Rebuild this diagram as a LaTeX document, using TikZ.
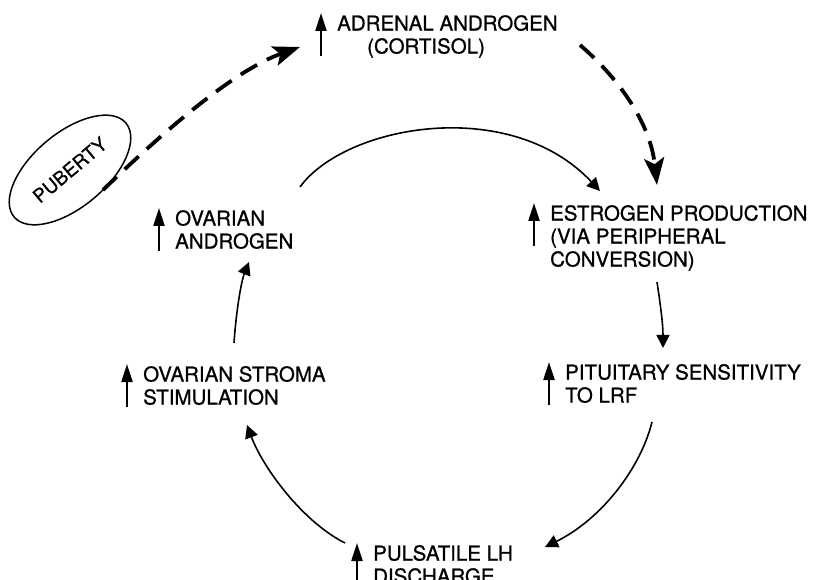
\documentclass[tikz,border=0pt]{standalone}
\usepackage{fontspec}
\setmainfont{TeX Gyre Heros}[FakeBold=0.8]
\usetikzlibrary{arrows.meta,shapes.geometric}

\begin{document}
\begin{tikzpicture}[x=1pt,y=-1pt,
    lbl/.style={anchor=north west,inner sep=0pt,align=left,font=\fontsize{20.5}{23}\selectfont},
    cyc/.style={line width=1.6pt,-{Triangle[length=13pt,width=13pt]}},
    dsh/.style={line width=3.8pt,dash pattern=on 19pt off 11pt,-{Stealth[length=27pt,width=20pt,inset=6pt]}},
    rise/.style={line width=2.2pt,-{Triangle[length=18pt,width=11pt]}}]
  \clip (0,0) rectangle (820,580);

  \node[lbl] (adrenal) at (337,15) {ADRENAL ANDROGEN\\\hspace*{30pt}(CORTISOL)};
  \node[lbl] (estrogen) at (550,205) {ESTROGEN PRODUCTION\\(VIA PERIPHERAL\\CONVERSION)};
  \node[lbl] (pituitary) at (565,364) {PITUITARY SENSITIVITY\\TO LRF};
  \node[lbl] (pulsatile) at (373,545) {PULSATILE LH\\DISCHARGE};
  \node[lbl] (stroma) at (143,366) {OVARIAN STROMA\\STIMULATION};
  \node[lbl] (ovarian) at (175,210) {OVARIAN\\ANDROGEN};
  \node[draw,ellipse,line width=1.5pt,rotate=40,minimum width=146pt,minimum height=74pt,
        inner sep=0pt,font=\fontsize{19}{23}\selectfont] (puberty) at (70,170) {PUBERTY};

  % small up arrows in front of each label
  \foreach \n in {adrenal,estrogen,pituitary,pulsatile,stroma,ovarian}
    \draw[rise] ([shift={(-16,41)}]\n.north west) -- ([shift={(-16,-2)}]\n.north west);

  % the cycle
  \draw[cyc] ([shift={(125,-23)}]ovarian.north west) .. controls +(45,-62) and +(-90,-96) .. ([shift={(50,-14)}]estrogen.north west);
  \draw[cyc] ([shift={(107,77)}]estrogen.north west) .. controls +(3,20) and +(0,-25) .. ([shift={(98,-16)}]pituitary.north west);
  \draw[cyc] ([shift={(87,58)}]pituitary.north west) .. controls +(-12,48) and +(55,-27) .. ([shift={(172,2)}]pulsatile.north west);
  \draw[cyc] ([shift={(-28,-2)}]pulsatile.north west) .. controls +(-42,-21) and +(16,43) .. ([shift={(104,59)}]stroma.north west);
  \draw[cyc] ([shift={(91,-23)}]stroma.north west) .. controls +(2,-30) and +(-8,20) .. ([shift={(74,52)}]ovarian.north west);

  % puberty path
  \draw[dsh] ([shift={(33,20)}]puberty.center) .. controls +(62,-60) and +(-65,23) .. ([shift={(-37,32)}]adrenal.north west);
  \draw[dsh] ([shift={(243,30)}]adrenal.north west) .. controls +(35,30) and +(-7,-65) .. ([shift={(107,-20)}]estrogen.north west);
\end{tikzpicture}
\end{document}
